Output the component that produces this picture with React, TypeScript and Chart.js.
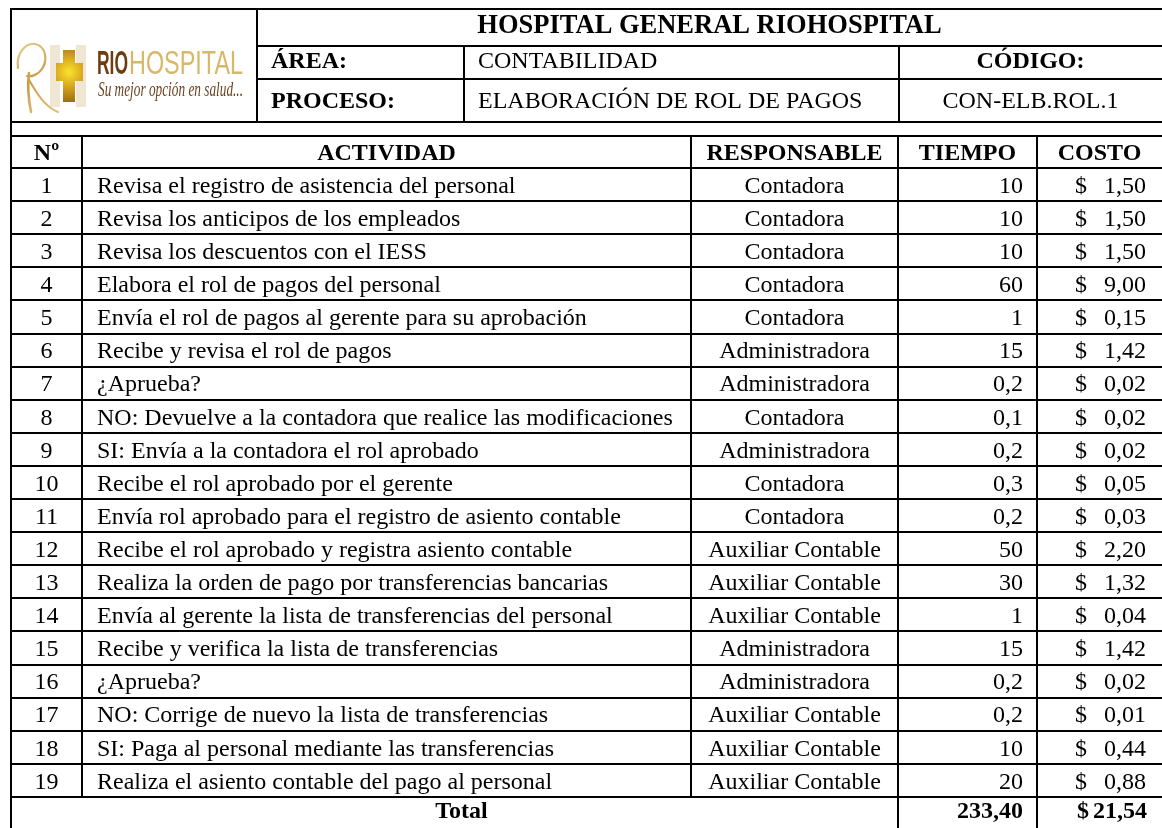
import React, { useEffect, useRef } from "react";
import { Chart, registerables } from "chart.js";

Chart.register(...registerables);

// ---------- DATA ----------
const titulo = "HOSPITAL GENERAL RIOHOSPITAL";
const headerLabels = ["ÁREA:", "PROCESO:"];
const headerValues = ["CONTABILIDAD", "ELABORACIÓN DE ROL DE PAGOS"];
const codigoLabel = "CÓDIGO:";
const codigoValue = "CON-ELB.ROL.1";
const columnas = ["Nº", "ACTIVIDAD", "RESPONSABLE", "TIEMPO", "COSTO"];
const numeros = ["1", "2", "3", "4", "5", "6", "7", "8", "9", "10", "11", "12", "13", "14", "15", "16", "17", "18", "19"];
const actividades = [
  "Revisa el registro de asistencia del personal",
  "Revisa los anticipos de los empleados",
  "Revisa los descuentos con el IESS",
  "Elabora el rol de pagos del personal",
  "Envía el rol de pagos al gerente para su aprobación",
  "Recibe y revisa el rol de pagos",
  "¿Aprueba?",
  "NO: Devuelve a la contadora que realice las modificaciones",
  "SI: Envía a la contadora el rol aprobado",
  "Recibe el rol aprobado por el gerente",
  "Envía rol aprobado para el registro de asiento contable",
  "Recibe el rol aprobado y registra asiento contable",
  "Realiza la orden de pago por transferencias bancarias",
  "Envía al gerente la lista de transferencias del personal",
  "Recibe y verifica la lista de transferencias",
  "¿Aprueba?",
  "NO: Corrige de nuevo la lista de transferencias",
  "SI: Paga al personal mediante las transferencias",
  "Realiza el asiento contable del pago al personal",
];
const responsables = [
  "Contadora", "Contadora", "Contadora", "Contadora", "Contadora",
  "Administradora", "Administradora", "Contadora", "Administradora", "Contadora",
  "Contadora", "Auxiliar Contable", "Auxiliar Contable", "Auxiliar Contable", "Administradora",
  "Administradora", "Auxiliar Contable", "Auxiliar Contable", "Auxiliar Contable",
];
const tiempos = [10, 10, 10, 60, 1, 15, 0.2, 0.1, 0.2, 0.3, 0.2, 50, 30, 1, 15, 0.2, 0.2, 10, 20];
const costos = [1.5, 1.5, 1.5, 9.0, 0.15, 1.42, 0.02, 0.02, 0.02, 0.05, 0.03, 2.2, 1.32, 0.04, 1.42, 0.02, 0.01, 0.44, 0.88];
const totalLabel = "Total";
const logoMarca = ["RIO", "HOSPITAL"];
const logoLema = "Su mejor opción en salud...";

// ---------- LAYOUT (positions only) ----------
const W = 1162;
const H = 828;
const L = {
  left: 11,
  right: 1162,
  top: 9,
  hRow1: 46,
  hRow2: 79,
  hBottom: 122,
  tTop: 136,
  colHead: 168,
  rowH: 33.1,
  xLogo: 257,
  xLabel: 464,
  xCode: 899,
  xNo: 82,
  xAct: 691,
  xResp: 898,
  xTiempo: 1037,
};

const SERIF = '"Liberation Serif", "Times New Roman", serif';

const fmt = (v: number, d: number) => v.toFixed(d).replace(".", ",");
const fmtT = (v: number) => (Number.isInteger(v) ? String(v) : String(v).replace(".", ","));

const tablePlugin = {
  id: "tablePlugin",
  beforeDraw(chart: any) {
    const ctx = chart.ctx;
    ctx.save();
    ctx.fillStyle = "#ffffff";
    ctx.fillRect(0, 0, chart.width, chart.height);
    ctx.restore();
  },
  afterDraw(chart: any) {
    const ctx: CanvasRenderingContext2D = chart.ctx;
    const xs = chart.scales.x;
    const ys = chart.scales.y;
    const px = (v: number) => Math.round(xs.getPixelForValue(v));
    const py = (v: number) => Math.round(ys.getPixelForValue(v));
    const pxf = (v: number) => xs.getPixelForValue(v);
    const pyf = (v: number) => ys.getPixelForValue(v);

    const n = actividades.length;
    const rowTop = (i: number) => L.colHead + i * L.rowH;
    const bodyBottom = rowTop(n);
    const totalBottom = bodyBottom + L.rowH;

    ctx.save();
    // ---- lines ----
    ctx.strokeStyle = "#000";
    ctx.lineWidth = 2;
    const hl = (x1: number, x2: number, y: number) => {
      ctx.beginPath();
      ctx.moveTo(px(x1) - 1, py(y));
      ctx.lineTo(px(x2) + 1, py(y));
      ctx.stroke();
    };
    const vl = (x: number, y1: number, y2: number) => {
      ctx.beginPath();
      ctx.moveTo(px(x), py(y1) - 1);
      ctx.lineTo(px(x), py(y2) + 1);
      ctx.stroke();
    };
    hl(L.left, L.right, L.top);
    hl(L.xLogo, L.right, L.hRow1);
    hl(L.xLogo, L.right, L.hRow2);
    hl(L.left, L.right, L.hBottom);
    vl(L.xLogo, L.top, L.hBottom);
    vl(L.xLabel, L.hRow1, L.hBottom);
    vl(L.xCode, L.hRow1, L.hBottom);
    vl(L.left, L.top, totalBottom + 2);
    hl(L.left, L.right, L.tTop);
    hl(L.left, L.right, L.colHead);
    for (let i = 1; i <= n; i++) hl(L.left, L.right, rowTop(i));
    vl(L.xNo, L.tTop, bodyBottom);
    vl(L.xAct, L.tTop, bodyBottom);
    vl(L.xResp, L.tTop, totalBottom + 2);
    vl(L.xTiempo, L.tTop, totalBottom + 2);

    // ---- text ----
    ctx.fillStyle = "#000";
    ctx.textBaseline = "alphabetic";
    const txt = (s: string, x: number, y: number, align: CanvasTextAlign, size: number, bold: boolean) => {
      ctx.font = `${bold ? "bold " : ""}${size}px ${SERIF}`;
      ctx.textAlign = align;
      ctx.fillText(s, pxf(x), pyf(y));
    };

    txt(titulo, (L.xLogo + L.right) / 2, 33, "center", 26.5, true);
    const hRows = [
      [L.hRow1, L.hRow2],
      [L.hRow2, L.hBottom],
    ];
    hRows.forEach(([a, b], i) => {
      const base = (a + b) / 2 + (i === 0 ? 5.5 : 7.5);
      txt(headerLabels[i], L.xLogo + 14, base, "left", 24, true);
      txt(headerValues[i], L.xLabel + 14, base, "left", 24, false);
    });
    txt(codigoLabel, (L.xCode + L.right) / 2, (L.hRow1 + L.hRow2) / 2 + 5.5, "center", 24, true);
    txt(codigoValue, (L.xCode + L.right) / 2, (L.hRow2 + L.hBottom) / 2 + 7.5, "center", 24, false);

    const hb = (L.tTop + L.colHead) / 2 + 7.5;
    const colCenters = [
      (L.left + L.xNo) / 2,
      (L.xNo + L.xAct) / 2,
      (L.xAct + L.xResp) / 2,
      (L.xResp + L.xTiempo) / 2,
      (L.xTiempo + L.right) / 2,
    ];
    columnas.forEach((c, i) => txt(c, colCenters[i], hb, "center", 24, true));

    for (let i = 0; i < n; i++) {
      const base = rowTop(i) + L.rowH / 2 + 8.3;
      txt(numeros[i], colCenters[0], base, "center", 24, false);
      txt(actividades[i], L.xNo + 15, base, "left", 24, false);
      txt(responsables[i], colCenters[2], base, "center", 24, false);
      txt(fmtT(tiempos[i]), L.xTiempo - 14, base, "right", 24, false);
      txt("$", L.xTiempo + 38, base, "left", 24, false);
      txt(fmt(costos[i], 2), L.right - 16, base, "right", 24, false);
    }
    const totalT = tiempos.reduce((a, b) => a + b, 0);
    const totalC = costos.reduce((a, b) => a + b, 0);
    const tb = bodyBottom + 21;
    txt(totalLabel, (L.left + L.xResp) / 2 + 7, tb, "center", 24, true);
    txt(fmt(totalT, 2), L.xTiempo - 14, tb, "right", 24, true);
    txt("$", L.xTiempo + 40, tb, "left", 24, true);
    txt(fmt(totalC, 2), L.right - 15, tb, "right", 24, true);

    // ---- logo ----
    const fit = (s: string, x: number, base: number, w: number, font: string, color: string | CanvasGradient) => {
      ctx.font = font;
      ctx.textAlign = "left";
      const m = ctx.measureText(s).width;
      ctx.save();
      ctx.translate(pxf(x), pyf(base));
      ctx.scale(w / m, 1);
      ctx.fillStyle = color as any;
      ctx.fillText(s, 0, 0);
      ctx.restore();
    };
    // pale pillars
    ctx.fillStyle = "#efe7d3";
    ctx.fillRect(px(50), py(45), 10, 62);
    ctx.fillRect(px(76), py(45), 10, 62);
    // R swoosh (thin gold strokes)
    const gR = ctx.createLinearGradient(px(17), py(43), px(57), py(113));
    gR.addColorStop(0, "#e6cf92");
    gR.addColorStop(0.5, "#c99a45");
    gR.addColorStop(1, "#e2c27a");
    ctx.strokeStyle = gR;
    ctx.lineCap = "round";
    ctx.lineWidth = 2.2;
    ctx.beginPath();
    ctx.moveTo(pxf(18), pyf(68));
    ctx.bezierCurveTo(pxf(16), pyf(52), pxf(26), pyf(43), pxf(35), pyf(44));
    ctx.bezierCurveTo(pxf(46), pyf(46), pxf(48), pyf(60), pxf(42), pyf(69));
    ctx.bezierCurveTo(pxf(38), pyf(75), pxf(31), pyf(77), pxf(27), pyf(76));
    ctx.stroke();
    ctx.lineWidth = 2.6;
    ctx.beginPath();
    ctx.moveTo(pxf(29), pyf(73));
    ctx.bezierCurveTo(pxf(27), pyf(88), pxf(29), pyf(102), pxf(31), pyf(112));
    ctx.stroke();
    ctx.lineWidth = 2;
    ctx.beginPath();
    ctx.moveTo(pxf(29), pyf(80));
    ctx.bezierCurveTo(pxf(36), pyf(92), pxf(44), pyf(106), pxf(58), pyf(112));
    ctx.stroke();
    // cross
    const cx = pxf(69), cy = pyf(72);
    const gC = ctx.createRadialGradient(cx, cy, 2, cx, cy, 30);
    gC.addColorStop(0, "#f6dc2a");
    gC.addColorStop(0.45, "#d7a61e");
    gC.addColorStop(1, "#9c6f14");
    ctx.fillStyle = gC;
    ctx.fillRect(px(63), py(50), 12, 52);
    ctx.fillRect(px(56), py(63), 27, 18);
    // brand
    fit(logoMarca[0], 97, 74, 31, `bold 33px "Liberation Sans", Arial, sans-serif`, "#6f3d12");
    const gH = ctx.createLinearGradient(0, py(50), 0, py(75));
    gH.addColorStop(0, "#d8b868");
    gH.addColorStop(1, "#b88a32");
    fit(logoMarca[1], 129, 74, 114, `33px "Liberation Sans", Arial, sans-serif`, gH);
    fit(logoLema, 98, 96, 145, `italic 21px ${SERIF}`, "#6a4322");

    ctx.restore();
  },
};

export default function App() {
  const ref = useRef<HTMLCanvasElement | null>(null);
  useEffect(() => {
    document.body.style.margin = "0";
    const canvas = ref.current;
    if (!canvas) return;
    const chart = new Chart(canvas, {
      type: "scatter",
      data: { datasets: [{ data: [], pointRadius: 0 }] },
      options: {
        responsive: false,
        animation: false,
        devicePixelRatio: 1,
        layout: { padding: 0 },
        events: [],
        plugins: { legend: { display: false }, tooltip: { enabled: false } },
        scales: {
          x: { type: "linear", min: 0, max: W, display: false },
          y: { type: "linear", min: 0, max: H, reverse: true, display: false },
        },
      },
      plugins: [tablePlugin],
    } as any);
    if ((document as any).fonts && (document as any).fonts.ready) {
      (document as any).fonts.ready.then(() => {
        try { chart.update(); } catch (e) {}
      });
    }
    return () => chart.destroy();
  }, []);
  return (
    <div style={{ width: W, height: H, background: "#fff" }}>
      <canvas ref={ref} width={W} height={H} style={{ display: "block", width: W, height: H }} />
    </div>
  );
}
